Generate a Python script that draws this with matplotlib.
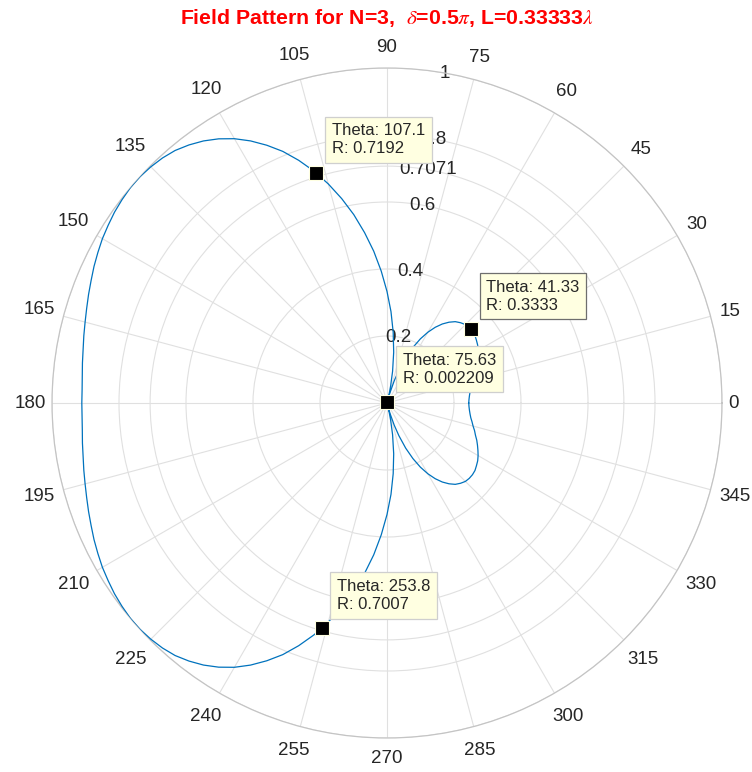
import numpy as np
import matplotlib
matplotlib.use("Agg")
import matplotlib.pyplot as plt

plt.rcParams['font.family'] = ['Liberation Sans', 'DejaVu Sans']
plt.rcParams['mathtext.fontset'] = 'stix'

# Pattern (theta in degrees, R normalised)
theta_deg = [0, 2.5, 5, 7.5, 10, 12.5, 15, 17.5, 20, 22.5, 25, 27.5, 30, 32.5, 35, 37.5, 40,
             42.5, 45, 47.5, 50, 52.5, 55, 57.5, 60, 62.5, 65, 67.5, 70, 72, 74, 75.5, 77, 78,
             80, 82.5, 85, 87.5, 90, 92.5, 95, 97.5, 100, 102.5, 105, 107.5, 110, 112.5, 115,
             117.5, 120, 122.5, 125, 127.5, 130, 132.5, 135, 137.5, 140, 142.5, 145, 147.5,
             150, 152.5, 155, 157.5, 160, 162.5, 165, 167.5, 170, 172.5, 175, 177.5, 180,
             182.5, 185, 187.5, 190, 192.5, 195, 197.5, 200, 202.5, 205, 207.5, 210, 212.5,
             215, 217.5, 220, 222.5, 225, 227.5, 230, 232.5, 235, 237.5, 240, 242.5, 245,
             247.5, 250, 252.5, 255, 257.5, 260, 262.5, 265, 267.5, 270, 272.5, 275, 277.5,
             280, 282, 283, 284.5, 286, 288, 290, 292.5, 295, 297.5, 300, 302.5, 305, 307.5,
             310, 312.5, 315, 317.5, 320, 322.5, 325, 327.5, 330, 332.5, 335, 337.5, 340,
             342.5, 345, 347.5, 350, 352.5, 355, 357.5, 360]
r_vals = [0.244, 0.245, 0.247, 0.250, 0.254, 0.260, 0.266, 0.274, 0.281, 0.290, 0.298, 0.306,
          0.314, 0.321, 0.326, 0.331, 0.333, 0.333, 0.331, 0.325, 0.317, 0.304, 0.288, 0.268,
          0.244, 0.216, 0.183, 0.146, 0.104, 0.069, 0.031, 0.0, 0.031, 0.052,
          0.096, 0.153, 0.212, 0.273, 0.333, 0.394, 0.455, 0.513, 0.571, 0.625, 0.677, 0.726,
          0.771, 0.813, 0.849, 0.882, 0.911, 0.935, 0.955, 0.971, 0.984, 0.992, 0.997, 1.000,
          1.000, 0.997, 0.993, 0.987, 0.981, 0.973, 0.965, 0.956, 0.948, 0.940, 0.933, 0.927,
          0.921, 0.917, 0.913, 0.911, 0.911,
          0.911, 0.913, 0.917, 0.921, 0.927, 0.933, 0.940, 0.948, 0.956, 0.965, 0.973, 0.981,
          0.987, 0.993, 0.997, 1.000, 1.000, 0.997, 0.992, 0.984, 0.971, 0.955, 0.935, 0.911,
          0.882, 0.849, 0.813, 0.771, 0.726, 0.677, 0.625, 0.571, 0.513, 0.455, 0.394, 0.333,
          0.273, 0.212, 0.153, 0.096, 0.052, 0.031, 0.0, 0.031, 0.069, 0.104, 0.146, 0.183,
          0.216, 0.244, 0.268, 0.288, 0.304, 0.317, 0.325, 0.331, 0.333, 0.333, 0.331, 0.326,
          0.321, 0.314, 0.306, 0.298, 0.290, 0.281, 0.274, 0.266, 0.260, 0.254, 0.250, 0.247,
          0.245, 0.244]

# Data tips
tip_theta = [107.1, 41.33, 75.63, 253.8]
tip_r = [0.7192, 0.3333, 0.002209, 0.7007]
tip_theta_lbl = ["107.1", "41.33", "75.63", "253.8"]
tip_r_lbl = ["0.7192", "0.3333", "0.002209", "0.7007"]
tip_edge = ['#cfcfcf', '#6e6e6e', '#cfcfcf', '#cfcfcf']

r_ticks = [0, 0.2, 0.4, 0.6, 0.7071, 0.8, 1]
r_tick_labels = ["0", "0.2", "0.4", "0.6", "0.7071", "0.8", "1"]
theta_ticks = list(range(0, 360, 15))

W, H = 752, 772
CX, CY, RAD = 387, 403, 335   # polar centre / radius in pixels

fig = plt.figure(figsize=(W / 100, H / 100), dpi=100)
ax = fig.add_axes([(CX - RAD) / W, (H - CY - RAD) / H, 2 * RAD / W, 2 * RAD / H],
                  projection='polar')

ax.plot(np.deg2rad(theta_deg), r_vals, color='#0072BD', lw=0.9, zorder=3)
ax.set_ylim(0, 1)

ax.set_xticks(np.deg2rad(theta_ticks))
ax.set_xticklabels([])
ax.set_yticks(r_ticks)
ax.set_yticklabels(r_tick_labels, fontsize=13.5, color='#262626')
ax.set_rlabel_position(80)
for lbl in ax.get_yticklabels():
    lbl.set_ha('center')
    lbl.set_va('center')

ax.grid(True, color='#e0e0e0', lw=0.8)
ax.spines['polar'].set_color('#c4c4c4')
ax.spines['polar'].set_linewidth(0.9)

# Theta labels placed just outside the outer circle
for t in theta_ticks:
    s = str(t)
    a = np.deg2rad(t)
    hw = len(s) * 10.4 / 2 + 1
    hh = 15.5
    d = RAD + 5 + hw * abs(np.cos(a)) + hh * abs(np.sin(a))
    px = CX + d * np.cos(a)
    py = CY - d * np.sin(a)
    fig.text(px / W, 1 - py / H, s, ha='center', va='center', fontsize=13.5, color='#262626')

for th, rr, tl, rl, ec in zip(tip_theta, tip_r, tip_theta_lbl, tip_r_lbl, tip_edge):
    ax.plot(np.deg2rad(th), rr, marker='s', ms=9.5, color='black',
            mec='#ffffe1', mew=0.8, zorder=5, clip_on=False)
    ax.annotate(f"Theta: {tl}\nR: {rl}", xy=(np.deg2rad(th), rr),
                xytext=(15.5, 16.5), textcoords='offset pixels', ha='left', va='bottom',
                fontsize=12, color='#262626', linespacing=1.25, zorder=6,
                bbox=dict(boxstyle='square,pad=0.4', fc='#ffffe1', ec=ec, lw=0.9))

fig.text(387 / W, 1 - 18 / H, r"Field Pattern for N=3,  $\delta$=0.5$\pi$, L=0.33333$\lambda$",
         ha='center', va='center', fontsize=15.3, fontweight='bold', color='#ff0000')

fig.savefig("out.png", dpi=100)
